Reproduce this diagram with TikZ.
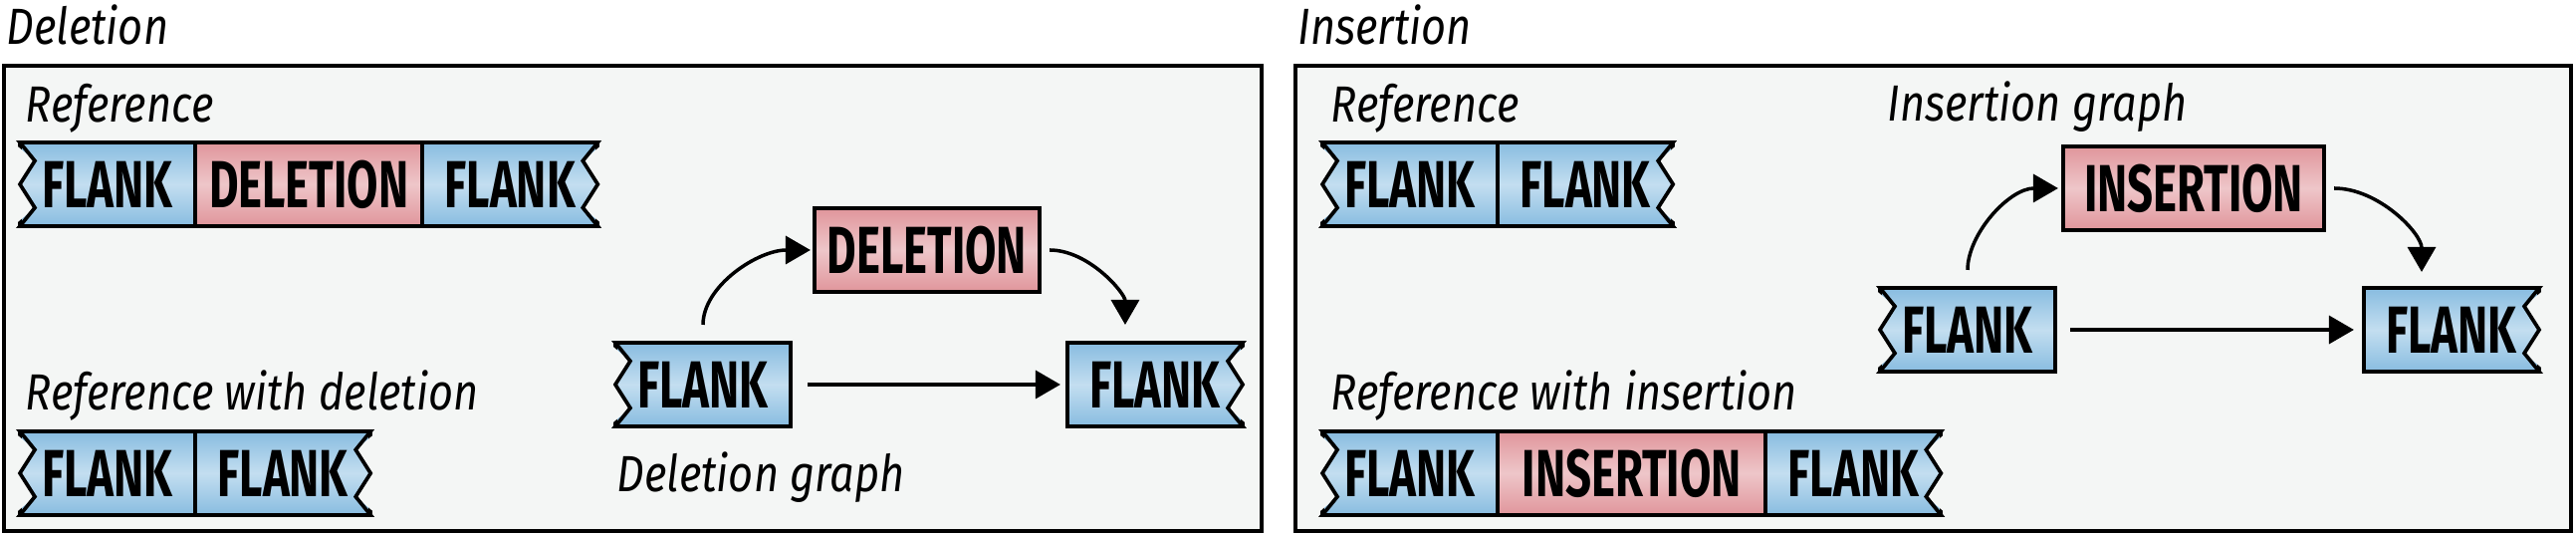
\documentclass[tikz,border=0pt]{standalone}
\usepackage{fontspec}
\usepackage{tikz}
\usetikzlibrary{arrows.meta,positioning,calc}

\newfontfamily\blockfamily[FakeStretch=0.68]{Fira Sans}
\newfontfamily\notefamily[FakeStretch=0.85]{Fira Sans}
\newcommand{\blockfont}{\blockfamily\bfseries\fontsize{19pt}{19pt}\selectfont}
\newcommand{\notefont}{\notefamily\itshape\fontsize{14.5pt}{14.5pt}\selectfont}

\definecolor{panelbg}{HTML}{F4F6F5}
\definecolor{flankdark}{HTML}{88BCE0}
\definecolor{flanklight}{HTML}{C3DEF0}
\definecolor{indeldark}{HTML}{E0959B}
\definecolor{indellight}{HTML}{EEC6C9}

\newlength{\zigdepth}
\setlength{\zigdepth}{0.15cm}

% ragged ends of a sequence piece
\newcommand{\zigleft}[1]{%
  \fill[panelbg] ([xshift=-2pt]#1.north west) -- ($(#1.north west)!0.22!(#1.south west)+(\zigdepth,0)$) -- (#1.west)
    -- ($(#1.north west)!0.78!(#1.south west)+(\zigdepth,0)$) -- ([xshift=-2pt]#1.south west) -- cycle;
  \draw[zigline] ([xshift=0.3cm]#1.north west) -- (#1.north west) -- ($(#1.north west)!0.22!(#1.south west)+(\zigdepth,0)$) -- (#1.west)
    -- ($(#1.north west)!0.78!(#1.south west)+(\zigdepth,0)$) -- (#1.south west) -- ([xshift=0.3cm]#1.south west);
}
\newcommand{\zigright}[1]{%
  \fill[panelbg] ([xshift=2pt]#1.north east) -- ($(#1.north east)!0.22!(#1.south east)-(\zigdepth,0)$) -- (#1.east)
    -- ($(#1.north east)!0.78!(#1.south east)-(\zigdepth,0)$) -- ([xshift=2pt]#1.south east) -- cycle;
  \draw[zigline] ([xshift=-0.3cm]#1.north east) -- (#1.north east) -- ($(#1.north east)!0.22!(#1.south east)-(\zigdepth,0)$) -- (#1.east)
    -- ($(#1.north east)!0.78!(#1.south east)-(\zigdepth,0)$) -- (#1.south east) -- ([xshift=-0.3cm]#1.south east);
}

\begin{document}
\begin{tikzpicture}[x=0.01cm,y=0.01cm,>={Triangle[length=0.25cm,width=0.28cm]},
    seqblock/.style={rectangle,draw,line width=1.05pt,outer sep=0pt,inner sep=0pt,minimum height=0.84cm,font=\blockfont},
    flank/.style={seqblock,top color=flankdark,bottom color=flankdark,middle color=flanklight,minimum width=1.76cm},
    indel/.style={seqblock,top color=indeldark,bottom color=indeldark,middle color=indellight},
    zigline/.style={line width=1.05pt,line join=miter},
    note/.style={anchor=base west,inner sep=0pt,font=\notefont},
    panel/.style={draw,line width=1.2pt,fill=panelbg},
    link/.style={->,line width=1pt}]
\useasboundingbox (0,0) rectangle (2587,537);

\draw[panel] (4,4) rectangle (1267,471);
\draw[panel] (1301,4) rectangle (2582,471);

% deletion
\node[note] (deltitle) at (6,492) {Deletion};
\node[note] (delref) at (25,414) {Reference};
\node[flank,anchor=west] (delrefa) at (20,352) {FLANK};
\node[indel,minimum width=2.28cm,right=0pt of delrefa] (delrefb) {DELETION};
\node[flank,right=0pt of delrefb] (delrefc) {FLANK};
\zigleft{delrefa}
\zigright{delrefc}

\node[note] (delalt) at (25,125) {Reference with deletion};
\node[flank,anchor=west] (delalta) at (20,62) {FLANK};
\node[flank,right=0pt of delalta] (delaltb) {FLANK};
\zigleft{delalta}
\zigright{delaltb}

\node[flank] (delgl) at (706,151) {FLANK};
\node[indel,minimum width=2.26cm] (delgm) at (931,286) {DELETION};
\node[flank] (delgr) at (1160,151) {FLANK};
\zigleft{delgl}
\zigright{delgr}
\node[note] (delgraph) at (619,43) {Deletion graph};

\draw[link,shorten <=0.17cm,shorten >=0.07cm] (delgl.east) -- (delgr.west);
\draw[link,shorten <=0.18cm,shorten >=0.04cm] (delgl.north) to[out=90,in=180] (delgm.west);
\draw[link,shorten <=0.1cm,shorten >=0.18cm] (delgm.east) to[out=0,in=90] ([xshift=-0.3cm]delgr.north);

% insertion
\node[note] (instile) at (1303,492) {Insertion};
\node[note] (insref) at (1336,414) {Reference};
\node[flank,anchor=west] (insrefa) at (1328,352) {FLANK};
\node[flank,right=0pt of insrefa] (insrefb) {FLANK};
\zigleft{insrefa}
\zigright{insrefb}

\node[note] (insalt) at (1336,125) {Reference with insertion};
\node[flank,anchor=west] (insalta) at (1328,62) {FLANK};
\node[indel,minimum width=2.69cm,right=0pt of insalta] (insaltb) {INSERTION};
\node[flank,right=0pt of insaltb] (insaltc) {FLANK};
\zigleft{insalta}
\zigright{insaltc}

\node[note] (insgraph) at (1895,415) {Insertion graph};
\node[indel,minimum width=2.62cm] (insgm) at (2203,348) {INSERTION};
\node[flank] (insgl) at (1976,206) {FLANK};
\node[flank] (insgr) at (2462,206) {FLANK};
\zigleft{insgl}
\zigright{insgr}

\draw[link,shorten <=0.15cm,shorten >=0.1cm] (insgl.east) -- (insgr.west);
\draw[link,shorten <=0.18cm,shorten >=0.05cm] (insgl.north) to[out=90,in=180] (insgm.west);
\draw[link,shorten <=0.1cm,shorten >=0.16cm] (insgm.east) to[out=0,in=90] ([xshift=-0.3cm]insgr.north);
\end{tikzpicture}
\end{document}
